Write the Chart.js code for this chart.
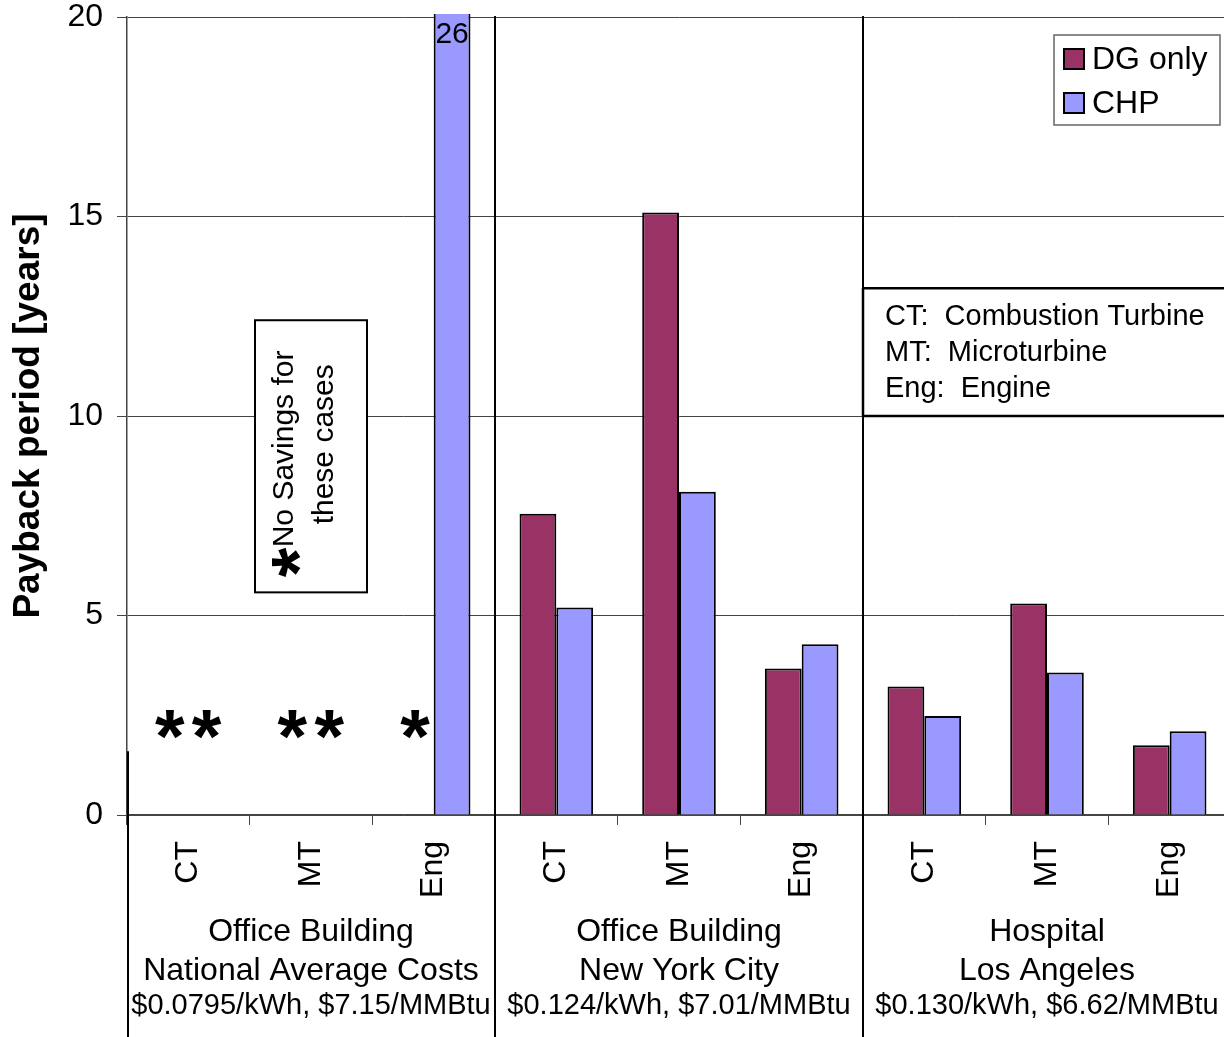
<!DOCTYPE html>
<html>
<head>
<meta charset="utf-8">
<script src="https://cdn.jsdelivr.net/npm/chart.js@4.4.0/dist/chart.umd.min.js"></script>
<style>
html,body{margin:0;padding:0;background:#fff;overflow:hidden;width:1224px;height:1037px;}
#wrap{width:1231px;height:1037px;position:relative;}
</style>
</head>
<body>
<div id="wrap"><canvas id="c"></canvas></div>
<script>
// ---- data ----
const categories = ['CT', 'MT', 'Eng', 'CT', 'MT', 'Eng', 'CT', 'MT', 'Eng'];
const groupLabels = [
  ['Office Building', 'National Average Costs', '$0.0795/kWh, $7.15/MMBtu'],
  ['Office Building', 'New York City', '$0.124/kWh, $7.01/MMBtu'],
  ['Hospital', 'Los Angeles', '$0.130/kWh, $6.62/MMBtu']
];
const dgOnly = [null, null, null, 7.55, 15.1, 3.67, 3.22, 5.3, 1.75];
const chp = [null, null, 26, 5.2, 8.1, 4.28, 2.48, 3.57, 2.1];
const dgNoSavings = [true, true, true, false, false, false, false, false, false];
const chpNoSavings = [true, true, false, false, false, false, false, false, false];
const chpValueLabels = [null, null, '26', null, null, null, null, null, null];
const yTicks = [0, 5, 10, 15, 20];
const seriesNames = ['DG only', 'CHP'];
const abbreviations = ['CT:  Combustion Turbine', 'MT:  Microturbine', 'Eng:  Engine'];
const noteLines = ['No Savings for', 'these cases'];
const yTitle = 'Payback period [years]';

const FONT = '"Liberation Sans", Arial, Helvetica, sans-serif';
const DG_COLOR = '#993366';
const CHP_COLOR = '#9999FF';
const VIEW_W = 1224;

function centeredGlyph(ctx, ch, cx, cy) {
  ctx.textAlign = 'left';
  ctx.textBaseline = 'alphabetic';
  const m = ctx.measureText(ch);
  const asc = m.actualBoundingBoxAscent, desc = m.actualBoundingBoxDescent;
  const l = m.actualBoundingBoxLeft, r = m.actualBoundingBoxRight;
  ctx.fillText(ch, cx - (r - l) / 2, cy + (asc - desc) / 2);
}

const annotPlugin = {
  id: 'annot',
  afterDatasetsDraw(chart) {
    const {ctx, chartArea: ca, scales: {x, y}} = chart;
    const H = chart.height, W = VIEW_W;
    const catW = x.getPixelForValue(1) - x.getPixelForValue(0);
    const bw = catW * 0.6 / 2;
    ctx.save();

    // group separators
    ctx.strokeStyle = '#000';
    ctx.lineWidth = 2;
    for (let g = 1; g < 3; g++) {
      const sx = (x.getPixelForValue(3 * g - 1) + x.getPixelForValue(3 * g)) / 2;
      ctx.beginPath(); ctx.moveTo(sx, ca.top - 1); ctx.lineTo(sx, H); ctx.stroke();
    }
    ctx.beginPath(); ctx.moveTo(ca.left + 1, y.getPixelForValue(1.6)); ctx.lineTo(ca.left + 1, H); ctx.stroke();

    // group labels
    ctx.fillStyle = '#000';
    const rowY = [ca.bottom + 117, ca.bottom + 156, ca.bottom + 191];
    const rowF = [32, 32, 29];
    groupLabels.forEach((lines, g) => {
      const gx = x.getPixelForValue(3 * g + 1);
      lines.forEach((t, k) => {
        ctx.font = rowF[k] + 'px ' + FONT;
        ctx.textAlign = 'center';
        ctx.textBaseline = 'middle';
        ctx.fillText(t, gx, rowY[k]);
      });
    });

    // "no savings" asterisks
    ctx.font = 'bold 76px ' + FONT;
    const ay = y.getPixelForValue(2.28);
    categories.forEach((c, i) => {
      const cx = x.getPixelForValue(i);
      if (dgNoSavings[i]) centeredGlyph(ctx, '*', cx - bw / 2, ay);
      if (chpNoSavings[i]) centeredGlyph(ctx, '*', cx + bw / 2, ay);
    });

    // value labels on clipped bar
    ctx.font = '30px ' + FONT;
    ctx.textAlign = 'center';
    ctx.textBaseline = 'middle';
    categories.forEach((c, i) => {
      if (chpValueLabels[i]) ctx.fillText(chpValueLabels[i], x.getPixelForValue(i) + bw / 2, ca.top + 18);
    });

    // note box (rotated)
    const nx = x.getPixelForValue(1), nw = 112;
    const nTop = y.getPixelForValue(12.4), nBot = y.getPixelForValue(5.58);
    ctx.fillStyle = '#fff';
    ctx.fillRect(nx - nw / 2, nTop, nw, nBot - nTop);
    ctx.strokeStyle = '#000'; ctx.lineWidth = 2;
    ctx.strokeRect(nx - nw / 2, nTop, nw, nBot - nTop);
    const ncy = (nTop + nBot) / 2;
    ctx.translate(nx, ncy);
    ctx.rotate(-Math.PI / 2);
    ctx.fillStyle = '#000';
    ctx.font = '30px ' + FONT;
    ctx.textBaseline = 'middle';
    ctx.textAlign = 'left';
    ctx.fillText(noteLines[0], -91, -26);
    ctx.textAlign = 'center';
    ctx.fillText(noteLines[1], 12, 14);
    ctx.font = 'bold 76px ' + FONT;
    centeredGlyph(ctx, '*', -106, -25);
    ctx.setTransform(1, 0, 0, 1, 0, 0);

    // abbreviations box
    const bx = (x.getPixelForValue(5) + x.getPixelForValue(6)) / 2;
    const bTop = y.getPixelForValue(13.2), bBot = y.getPixelForValue(10);
    ctx.fillStyle = '#fff';
    ctx.fillRect(bx, bTop, ca.right - bx + 2, bBot - bTop);
    ctx.strokeStyle = '#000'; ctx.lineWidth = 2.5;
    ctx.beginPath();
    ctx.moveTo(bx, bTop); ctx.lineTo(ca.right + 2, bTop);
    ctx.moveTo(bx, bBot); ctx.lineTo(ca.right + 2, bBot);
    ctx.moveTo(bx, bTop); ctx.lineTo(bx, bBot);
    ctx.stroke();
    ctx.fillStyle = '#000';
    ctx.font = '29px ' + FONT;
    ctx.textAlign = 'left'; ctx.textBaseline = 'middle';
    abbreviations.forEach((t, k) => ctx.fillText(t, bx + 22, bTop + 29 + 36 * k));

    // legend
    const lx = W - 170, lt = ca.top + 18, lw = 166, lh = 90;
    ctx.fillStyle = '#fff';
    ctx.fillRect(lx, lt, lw, lh);
    ctx.strokeStyle = '#666'; ctx.lineWidth = 1.5;
    ctx.strokeRect(lx, lt, lw, lh);
    const colors = [DG_COLOR, CHP_COLOR];
    ctx.font = '32px ' + FONT;
    seriesNames.forEach((nm, k) => {
      const cy = lt + 24 + 44 * k;
      ctx.fillStyle = colors[k];
      ctx.fillRect(lx + 10, cy - 10, 20, 20);
      ctx.strokeStyle = '#000'; ctx.lineWidth = 2;
      ctx.strokeRect(lx + 10, cy - 10, 20, 20);
      ctx.fillStyle = '#000';
      ctx.textAlign = 'left'; ctx.textBaseline = 'middle';
      ctx.fillText(nm, lx + 38, cy + 1);
    });

    ctx.restore();
  }
};

new Chart(document.getElementById('c'), {
  type: 'bar',
  data: {
    labels: categories,
    datasets: [
      {label: seriesNames[0], data: dgOnly, backgroundColor: DG_COLOR, borderColor: '#000', borderWidth: 2,
       categoryPercentage: 0.6, barPercentage: 1.0, clip: {left: 0, top: 3, right: 0, bottom: 0}},
      {label: seriesNames[1], data: chp, backgroundColor: CHP_COLOR, borderColor: '#000', borderWidth: 2,
       categoryPercentage: 0.6, barPercentage: 1.0, clip: {left: 0, top: 3, right: 0, bottom: 0}}
    ]
  },
  options: {
    responsive: true,
    maintainAspectRatio: false,
    animation: false,
    devicePixelRatio: 1,
    layout: {padding: {top: 17, left: 0, right: 0, bottom: 0}},
    plugins: {legend: {display: false}, tooltip: {enabled: false}},
    scales: {
      x: {
        offset: true,
        grid: {offset: true, drawOnChartArea: false, color: '#444', tickLength: 10, lineWidth: 1},
        border: {color: '#444', width: 1.5},
        ticks: {color: '#000', font: {family: FONT, size: 32, lineHeight: 1}, minRotation: 90, maxRotation: 90, padding: 16, autoSkip: false},
        afterFit(s) { s.height = 222; s.paddingLeft = 0; s.paddingRight = 0; }
      },
      y: {
        min: 0, max: 20,
        afterBuildTicks(s) { s.ticks = yTicks.map(v => ({value: v})); },
        grid: {color: '#444', lineWidth: 1, tickLength: 10},
        border: {color: '#444', width: 1.5},
        ticks: {color: '#000', font: {family: FONT, size: 32, lineHeight: 1}, padding: 14},
        title: {display: true, text: yTitle, color: '#000', font: {family: FONT, size: 37, weight: 'bold', lineHeight: 1.2}, padding: {top: 7, bottom: 0}},
        afterFit(s) { s.width = 127; s.paddingTop = 0; s.paddingBottom = 0; }
      }
    }
  },
  plugins: [annotPlugin]
});
</script>
</body>
</html>
